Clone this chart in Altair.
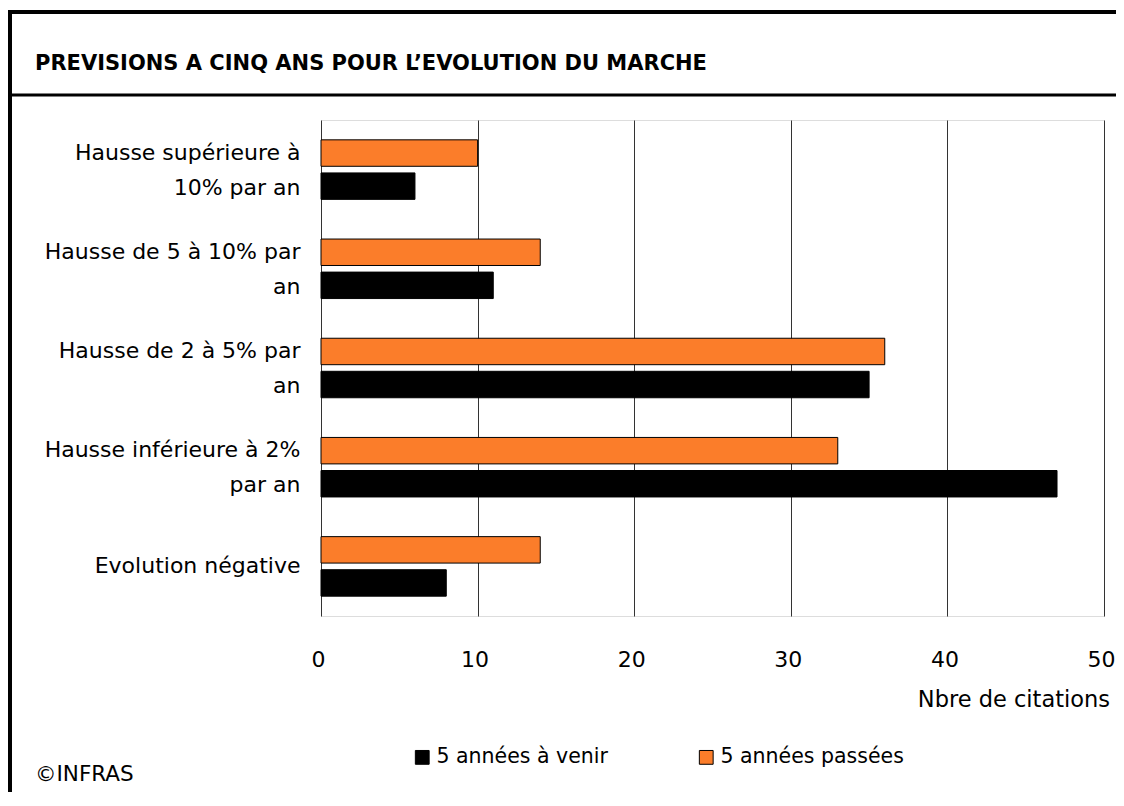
import altair as alt
import pandas as pd

categories = [
    "Hausse supérieure à 10% par an",
    "Hausse de 5 à 10% par an",
    "Hausse de 2 à 5% par an",
    "Hausse inférieure à 2% par an",
    "Evolution négative",
]
label_lines = {
    "Hausse supérieure à 10% par an": ["Hausse supérieure à", "10% par an"],
    "Hausse de 5 à 10% par an": ["Hausse de 5 à 10% par", "an"],
    "Hausse de 2 à 5% par an": ["Hausse de 2 à 5% par", "an"],
    "Hausse inférieure à 2% par an": ["Hausse inférieure à 2%", "par an"],
    "Evolution négative": ["Evolution négative"],
}
series = ["5 années passées", "5 années à venir"]
passees = [10, 14, 36, 33, 14]
venir = [6, 11, 35, 47, 8]
x_ticks = [0, 10, 20, 30, 40, 50]
colors = {"5 années à venir": "#000000", "5 années passées": "#FB7D2A"}

rows = []
for c, p, v in zip(categories, passees, venir):
    rows.append({"cat": c, "serie": "5 années passées", "val": p})
    rows.append({"cat": c, "serie": "5 années à venir", "val": v})
df = pd.DataFrame(rows)

FONT = "DejaVu Sans"
W, H = 783, 496

expr = ""
for c, lines in label_lines.items():
    arr = "[" + ", ".join("'" + l + "'" for l in lines) + "]"
    expr += f"datum.value == '{c}' ? {arr} : "
expr += "datum.value"

bars = alt.Chart(df).mark_bar(stroke="#000000", strokeWidth=1).encode(
    x=alt.X("val:Q",
            scale=alt.Scale(domain=[0, 50], nice=False),
            axis=alt.Axis(values=x_ticks, grid=True, gridColor="#333333", gridWidth=1,
                          domain=False, ticks=False, labelFont=FONT, labelFontSize=22,
                          labelColor="#000000", labelPadding=33, labelFlush=False,
                          labelOffset=-3, title=None)),
    y=alt.Y("cat:N", sort=categories,
            scale=alt.Scale(paddingInner=0.4, paddingOuter=0.2),
            axis=alt.Axis(domain=False, ticks=False, labelFont=FONT, labelFontSize=22,
                          labelColor="#000000", labelPadding=21, labelExpr=expr,
                          labelLineHeight=35, labelLimit=400, title=None,
                          labelOffset={"condition": {"test": "datum.value == 'Evolution négative'", "value": 0},
                                       "value": -17})),
    yOffset=alt.YOffset("serie:N", sort=series,
                        scale=alt.Scale(paddingInner=0.2, paddingOuter=0)),
    color=alt.Color("serie:N",
                    scale=alt.Scale(domain=["5 années à venir", "5 années passées"],
                                    range=[colors["5 années à venir"], colors["5 années passées"]]),
                    legend=alt.Legend(orient="none", legendX=91, legendY=627,
                                      direction="horizontal", title=None,
                                      symbolType="square", symbolSize=190,
                                      symbolStrokeColor="#000000", symbolStrokeWidth=1,
                                      labelFont=FONT, labelFontSize=20.5, labelColor="#000000",
                                      columnPadding=88, labelOffset=4, labelLimit=400)),
)

frame_df = pd.DataFrame({"k": [0]})
base = alt.Chart(frame_df)

left_border = base.mark_rule(color="#000000", strokeWidth=4).encode(
    x=alt.value(-311), y=alt.value(-110), y2=alt.value(H + 200))
top_border = base.mark_rule(color="#000000", strokeWidth=4).encode(
    x=alt.value(-313), x2=alt.value(W + 30), y=alt.value(-108))
title_line = base.mark_rule(color="#000000", strokeWidth=3).encode(
    x=alt.value(-313), x2=alt.value(W + 30), y=alt.value(-25))

title_txt = base.mark_text(align="left", baseline="middle", font=FONT, fontSize=21,
                           fontWeight="bold", color="#000000").encode(
    x=alt.value(-286), y=alt.value(-56),
    text=alt.value("PREVISIONS A CINQ ANS POUR L\u2019EVOLUTION DU MARCHE"))
axis_title = base.mark_text(align="right", baseline="middle", font=FONT, fontSize=22.5,
                            color="#000000").encode(
    x=alt.value(W + 6), y=alt.value(H + 84), text=alt.value("Nbre de citations"))
copyright = base.mark_text(align="left", baseline="middle", font=FONT, fontSize=21.5,
                           color="#000000").encode(
    x=alt.value(-286), y=alt.value(H + 159), text=alt.value("\u00a9INFRAS"))

chart = alt.layer(bars, left_border, top_border, title_line,
                  title_txt, axis_title, copyright).properties(
    width=W, height=H,
    autosize=alt.AutoSizeParams(type="none"),
    padding={"left": 313, "top": 112, "right": 12, "bottom": 176},
).configure_view(stroke=None).configure(background="#ffffff")

chart.save("out.html", embed_options={"renderer": "svg", "actions": False})
